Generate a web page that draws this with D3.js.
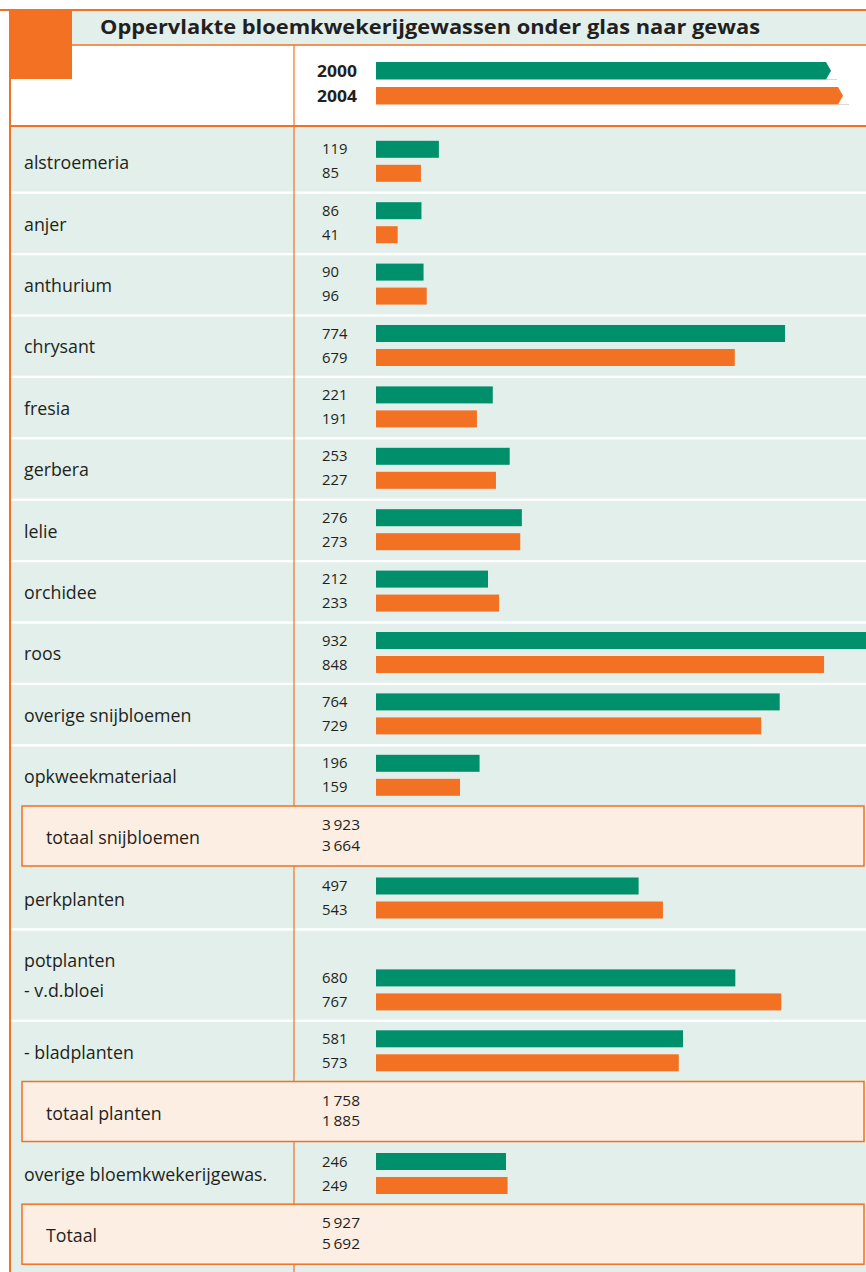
<!DOCTYPE html>
<html>
<head>
<meta charset="utf-8">
<script src="https://cdn.jsdelivr.net/npm/d3@7/dist/d3.min.js"></script>
<style>
  html, body { margin: 0; padding: 0; background: #ffffff; }
  svg { display: block; }
</style>
</head>
<body>
<script>
// Oppervlakte bloemkwekerijgewassen onder glas (ha), 2000 en 2004
const categories = [
  "alstroemeria", "anjer", "anthurium", "chrysant", "fresia", "gerbera",
  "lelie", "orchidee", "roos", "overige snijbloemen", "opkweekmateriaal",
  "totaal snijbloemen", "perkplanten", "potplanten\n- v.d.bloei", "- bladplanten",
  "totaal planten", "overige bloemkwekerijgewas.", "Totaal"
];
const rowKinds = [
  "bar", "bar", "bar", "bar", "bar", "bar", "bar", "bar", "bar", "bar", "bar",
  "total", "bar", "tall", "bar", "total", "bar", "total"
];
const values2000 = [119, 86, 90, 774, 221, 253, 276, 212, 932, 764, 196, 3923, 497, 680, 581, 1758, 246, 5927];
const values2004 = [85, 41, 96, 679, 191, 227, 273, 233, 848, 729, 159, 3664, 543, 767, 573, 1885, 249, 5692];
const years = ["2000", "2004"];

const W = 866, H = 1272;
const GREEN = "#008f6b", ORANGE = "#f37122", PALE = "#e2efea", PEACH = "#fdeee4", INK = "#231f20";
const FONT = "'Open Sans', 'Noto Sans', sans-serif";

const svg = d3.select("body").append("svg").attr("width", W).attr("height", H);

// frame geometry
const left = 10, divX = 294, barX0 = 376, numX = 322, labelX = 24;
const titleTop = 11, titleBottom = 45, headBottom = 126, bodyStart = 132.3;
const slotHeight = { bar: 61.4, tall: 91.4, total: 61.3 };
const barOffset = { bar: 8.5, tall: 39 };
const barH = 17, barGap = 24;
const labelSize = 17.8, numSize = 14.8;

const x = d3.scaleLinear().domain([0, 1000]).range([barX0, barX0 + 528.4]);
const fmt = v => v >= 1000 ? d3.format(",")(v).replace(/,/g, "\u2009") : String(v);

// stack the rows
let yCursor = bodyStart;
const rows = categories.map((c, i) => {
  const kind = rowKinds[i];
  const r = { label: c, kind, top: yCursor, h: slotHeight[kind], v0: values2000[i], v1: values2004[i],
              next: rowKinds[i + 1] };
  yCursor += r.h;
  return r;
});

// body background
svg.append("rect").attr("x", left).attr("y", headBottom).attr("width", W - left).attr("height", H - headBottom).attr("fill", PALE);

// header: title band and white legend area
svg.append("rect").attr("x", left).attr("y", titleTop).attr("width", W - left).attr("height", titleBottom - titleTop).attr("fill", PALE);
svg.append("rect").attr("x", left).attr("y", titleBottom).attr("width", W - left).attr("height", headBottom - titleBottom).attr("fill", "#ffffff");
svg.append("line").attr("x1", 0).attr("x2", W).attr("y1", 10).attr("y2", 10).attr("stroke", ORANGE).attr("stroke-width", 2);
svg.append("line").attr("x1", left).attr("x2", W).attr("y1", titleBottom).attr("y2", titleBottom).attr("stroke", ORANGE).attr("stroke-width", 1.5);
svg.append("rect").attr("x", 9).attr("y", 10).attr("width", 63).attr("height", 69).attr("fill", ORANGE);

svg.append("text").attr("x", 100).attr("y", 34)
  .attr("font-family", FONT).attr("font-weight", 700).attr("font-size", 19.5)
  .attr("fill", INK)
  .attr("textLength", 660).attr("lengthAdjust", "spacingAndGlyphs")
  .text("Oppervlakte bloemkwekerijgewassen onder glas naar gewas");

// white separators between consecutive bar rows
rows.forEach(r => {
  if (r.kind !== "total" && r.next && r.next !== "total") {
    svg.append("rect").attr("x", left).attr("y", r.top + r.h - 2.2).attr("width", W - left).attr("height", 2.4).attr("fill", "#ffffff");
  }
});

// vertical divider
svg.append("line").attr("x1", divX).attr("x2", divX).attr("y1", titleBottom).attr("y2", H).attr("stroke", ORANGE).attr("stroke-width", 1.2);

// heavy rule under the header and left frame edge
svg.append("line").attr("x1", left).attr("x2", W).attr("y1", headBottom).attr("y2", headBottom).attr("stroke", ORANGE).attr("stroke-width", 2.2);
svg.append("line").attr("x1", 10).attr("x2", 10).attr("y1", 10).attr("y2", H).attr("stroke", ORANGE).attr("stroke-width", 2);

// legend
const legendBars = [
  { year: years[0], color: GREEN, y: 62, end: 826 },
  { year: years[1], color: ORANGE, y: 87, end: 838 }
];
legendBars.forEach(d => {
  const h = 17.5;
  svg.append("line").attr("x1", d.end).attr("x2", d.end + 11).attr("y1", d.y + h).attr("y2", d.y + h)
    .attr("stroke", "#d9d9d9").attr("stroke-width", 1);
  svg.append("path")
    .attr("d", `M${barX0},${d.y}H${d.end}L${d.end + 5},${d.y + h / 2}L${d.end},${d.y + h}H${barX0}Z`)
    .attr("fill", d.color);
  svg.append("text").attr("x", 317).attr("y", d.y + h / 2 + 6)
    .attr("font-family", FONT).attr("font-weight", 700).attr("font-size", 16).attr("fill", INK)
    .attr("textLength", 40).attr("lengthAdjust", "spacingAndGlyphs")
    .text(d.year);
});

// rows
rows.forEach(r => {
  const g = svg.append("g");
  if (r.kind === "total") {
    const bx = 22, by = r.top - 1.7, bw = W - 2 - bx, bh = 60;
    g.append("rect").attr("x", bx).attr("y", by).attr("width", bw).attr("height", bh)
      .attr("fill", PEACH).attr("stroke", ORANGE).attr("stroke-width", 1.5);
    const cy = by + bh / 2;
    g.append("text").attr("x", 46).attr("y", cy + 8)
      .attr("font-family", FONT).attr("font-size", labelSize).attr("fill", INK).text(r.label);
    [r.v0, r.v1].forEach((v, k) => {
      g.append("text").attr("x", numX).attr("y", cy - 6 + k * 20.5)
        .attr("font-family", FONT).attr("font-size", numSize).attr("fill", INK)
        .attr("textLength", 38).attr("lengthAdjust", "spacingAndGlyphs")
        .text(fmt(v));
    });
    return;
  }
  const y0 = r.top + barOffset[r.kind], y1 = y0 + barGap;
  [[r.v0, GREEN, y0], [r.v1, ORANGE, y1]].forEach(([v, col, yy]) => {
    g.append("rect").attr("x", x(0)).attr("y", yy).attr("width", Math.min(x(v), W) - x(0)).attr("height", barH).attr("fill", col);
    g.append("text").attr("x", numX).attr("y", yy + barH / 2 + 5)
      .attr("font-family", FONT).attr("font-size", numSize).attr("fill", INK).text(fmt(v));
  });
  const lines = r.label.split("\n");
  if (lines.length === 1) {
    g.append("text").attr("x", labelX).attr("y", (y0 + y1 + barH) / 2 + 7.8)
      .attr("font-family", FONT).attr("font-size", labelSize).attr("fill", INK).text(lines[0]);
  } else {
    lines.forEach((t, k) => {
      g.append("text").attr("x", labelX).attr("y", r.top + 36.3 + k * 30)
        .attr("font-family", FONT).attr("font-size", labelSize).attr("fill", INK).text(t);
    });
  }
});
</script>
</body>
</html>
